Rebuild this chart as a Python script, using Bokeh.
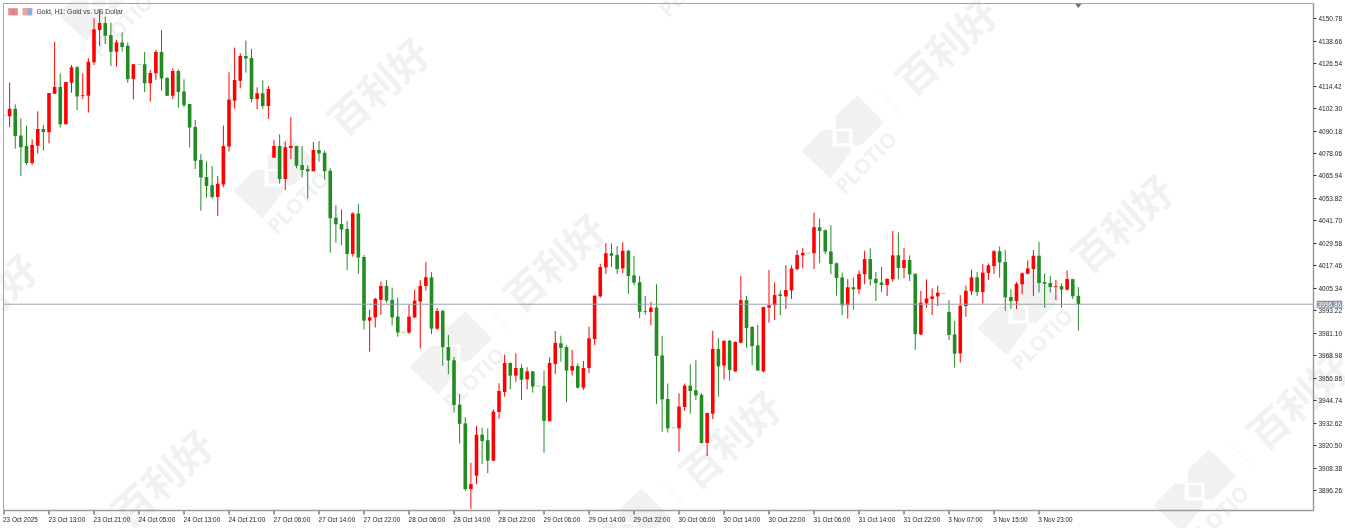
from bokeh.embed import file_html
from bokeh.resources import INLINE
from bokeh.plotting import figure
from bokeh.models import (ColumnDataSource, Range1d, LinearAxis, FixedTicker, NumeralTickFormatter,
                          Label, PolyAnnotation, Span)

opens = [4098.6,4098.1,4102.2,4087.8,4082.1,4073.0,4082.3,4091.2,4089.5,4110.3,4113.9,4093.8,4116.2,4124.5,4109.2,4109.2,
 4127.2,4144.6,4148.4,4141.9,4132.9,4137.8,4136.1,4118.2,4126.1,4126.1,4115.9,4121.3,4132.7,4118.7,4109.2,4122.5,
 4111.5,4104.7,4092.3,4074.6,4065.4,4060.9,4054.6,4061.3,4081.8,4106.5,4117.3,4130.6,4129.5,4107.4,4110.5,4103.7,
 4075.8,4082.1,4064.3,4081.0,4082.1,4071.9,4069.7,4068.5,4080.0,4078.4,4068.8,4043.5,4040.1,4037.4,4023.9,4045.8,
 4022.3,3988.0,3989.8,3999.2,4006.7,3999.2,3990.2,3981.7,3981.6,3989.8,3998.3,4006.7,4011.4,3983.7,3993.2,3973.8,
 3966.7,3942.8,3932.7,3897.3,3904.5,3926.6,3923.6,3912.6,3938.8,3949.6,3965.2,3958.4,3962.5,3956.4,3960.7,3952.8,
 3952.8,3933.8,3964.7,3975.8,3973.8,3961.1,3963.6,3951.9,3962.5,3978.1,4001.1,4016.7,4024.3,4023.4,4016.2,4025.7,
 4012.4,4008.7,3993.2,3992.7,3995.0,3969.3,3945.8,3930.2,3930.0,3941.5,3953.0,3950.5,3948.1,3922.1,3937.9,3972.8,
 3963.8,3977.2,3960.7,3976.1,3999.1,3984.6,3974.7,3960.7,3995.0,3996.3,4002.2,4001.1,4004.3,4015.8,4023.2,4024.4,
 4024.3,4038.3,4036.7,4025.3,4018.9,4011.3,3996.3,4006.0,4004.9,4013.0,4021.2,4010.6,4008.6,4007.2,4010.3,4023.2,
 4016.4,4020.7,4013.3,3980.6,3997.3,3999.7,4001.1,4002.7,3992.7,3980.6,3970.4,3995.9,4003.8,4011.3,4003.4,4013.7,
 4017.4,4025.4,4019.6,4000.8,3998.6,4007.6,4013.3,4015.8,4023.0,4008.8,4008.3,4006.1,4006.6,4004.7,4010.4,4001.4]
highs = [4098.6,4116.2,4104.5,4097.0,4093.1,4085.7,4100.8,4093.4,4110.6,4138.1,4121.1,4116.6,4125.7,4125.2,4121.3,4129.3,
 4150.9,4155.4,4151.8,4148.5,4139.2,4143.3,4137.8,4126.1,4126.1,4132.7,4123.0,4133.8,4144.6,4119.1,4123.9,4123.4,
 4118.0,4104.7,4096.1,4077.8,4073.9,4071.3,4066.0,4093.1,4121.8,4135.1,4132.0,4138.9,4134.4,4113.7,4117.5,4114.4,
 4085.2,4088.4,4084.5,4097.6,4082.1,4082.1,4071.7,4084.3,4084.8,4079.6,4070.1,4050.2,4048.0,4041.7,4046.4,4050.9,
 4023.4,3993.8,4000.4,4009.0,4009.9,4005.8,4000.4,3981.7,3996.5,4004.6,4009.9,4019.5,4014.1,3994.7,3994.1,3980.3,
 3968.5,3948.5,3936.0,3911.4,3931.3,3930.4,3930.0,3940.3,3954.3,3969.7,3965.6,3970.4,3964.5,3962.9,3960.7,3952.8,
 3961.1,3968.3,3982.4,3979.9,3974.8,3972.2,3965.0,3966.3,3984.8,4001.5,4018.5,4029.7,4029.7,4028.2,4030.2,4026.1,
 4022.8,4012.1,4001.3,3998.1,4007.6,3979.9,3954.2,3930.2,3948.9,3954.2,3964.5,3966.8,3948.9,3938.3,3982.6,3978.5,
 3977.2,3977.6,3976.9,4012.1,4001.3,3985.1,3985.7,3995.4,4015.3,4008.6,4004.2,4018.0,4017.8,4026.1,4027.1,4024.4,
 4046.2,4043.1,4037.2,4039.4,4019.4,4013.9,4010.4,4011.3,4015.1,4025.7,4027.0,4014.2,4016.9,4010.6,4036.3,4035.6,
 4027.3,4023.2,4013.3,4004.0,4010.3,4005.4,4006.9,4002.7,3999.1,3987.8,4001.8,4006.9,4015.5,4014.2,4018.5,4018.9,
 4026.1,4028.0,4026.1,4005.0,4008.8,4014.0,4020.5,4026.1,4030.5,4013.5,4012.0,4009.9,4008.1,4015.1,4010.4,4006.1]
lows = [4098.6,4092.3,4080.7,4065.9,4071.9,4071.9,4078.0,4079.6,4083.5,4110.3,4092.0,4093.8,4110.8,4101.5,4107.4,4100.1,
 4125.7,4136.0,4137.0,4125.2,4124.9,4132.9,4116.2,4107.2,4126.1,4111.2,4106.0,4117.7,4111.9,4109.0,4107.4,4102.7,
 4102.9,4081.4,4069.7,4047.3,4054.3,4053.6,4044.4,4059.9,4079.1,4102.2,4113.2,4121.6,4105.6,4101.9,4102.2,4096.7,
 4075.8,4061.8,4058.4,4075.1,4070.1,4065.1,4053.8,4068.5,4073.7,4064.0,4024.7,4030.0,4028.8,4015.3,4022.5,4013.3,
 3983.2,3971.3,3984.3,3991.1,3997.7,3985.5,3979.4,3981.7,3980.8,3989.3,3973.1,4004.2,3980.7,3983.0,3963.8,3959.3,
 3938.5,3921.9,3896.4,3886.6,3900.0,3910.8,3905.8,3912.3,3935.1,3947.1,3951.0,3955.0,3945.3,3951.0,3949.2,3952.8,
 3916.9,3933.8,3959.3,3965.9,3944.0,3958.4,3951.4,3950.7,3959.8,3974.9,4000.4,4013.2,4016.9,4013.2,4013.5,4002.4,
 4007.2,3989.4,3991.2,3985.5,3943.1,3928.2,3927.7,3930.2,3917.4,3939.4,3937.9,3945.3,3921.9,3915.1,3935.0,3947.1,
 3956.4,3955.7,3960.3,3975.8,3973.5,3964.1,3960.9,3960.2,3986.9,3988.4,3991.0,3994.3,3999.8,4015.1,4016.2,4024.4,
 4015.8,4018.9,4023.9,4013.0,4001.5,3990.9,3989.1,3993.9,4002.2,4007.7,4006.9,3998.6,4003.4,4001.3,4009.0,4010.3,
 4010.8,4009.4,3972.2,3980.3,3995.0,3991.1,3995.9,4002.7,3977.6,3962.7,3965.5,3990.1,4001.8,4001.3,3997.3,4009.9,
 4013.1,4011.2,3993.4,3994.3,3994.3,4002.2,4012.9,4001.3,4003.2,3995.0,4003.2,3999.1,3995.0,4004.3,3999.7,3982.6]
closes = [4098.6,4102.2,4087.5,4081.4,4073.0,4082.6,4091.2,4089.6,4110.6,4113.9,4093.8,4116.6,4124.5,4108.7,4109.6,4127.5,
 4145.0,4148.4,4141.5,4132.9,4137.8,4135.4,4118.2,4126.1,4126.1,4115.9,4121.4,4132.7,4118.5,4109.2,4122.5,4111.2,
 4104.0,4092.0,4074.2,4065.1,4060.6,4054.6,4061.8,4082.1,4107.1,4117.7,4130.6,4129.2,4107.4,4110.5,4103.7,4112.8,
 4082.1,4064.3,4081.4,4082.1,4071.5,4069.2,4068.5,4080.0,4078.0,4068.5,4043.2,4039.9,4037.1,4023.9,4045.8,4022.0,
 3988.0,3989.8,3999.7,4006.7,3998.8,3989.8,3981.6,3981.7,3990.2,3998.8,4006.7,4011.4,3983.7,3993.2,3973.7,3966.5,
 3942.6,3932.4,3897.3,3899.9,3926.6,3923.2,3912.6,3939.0,3950.1,3965.2,3958.4,3962.5,3956.2,3960.7,3952.5,3952.8,
 3934.0,3965.2,3976.0,3973.4,3961.1,3963.6,3951.9,3962.5,3978.5,4001.5,4016.9,4024.3,4023.0,4015.8,4025.7,4012.1,
 4008.5,3992.8,3992.8,3995.0,3969.0,3945.6,3930.0,3930.2,3941.7,3953.0,3950.1,3947.8,3922.1,3938.3,3972.8,3963.4,
 3977.2,3961.4,3976.5,3999.1,3984.0,3974.3,3961.2,3995.4,3996.3,4001.8,4001.3,4004.5,4016.2,4023.4,4024.4,4024.4,
 4038.3,4036.3,4025.2,4018.5,4011.0,3996.3,4006.0,4004.9,4013.1,4021.2,4010.3,4008.3,4007.2,4010.6,4023.2,4016.4,
 4020.7,4012.9,3980.8,3997.7,4000.0,4001.1,4003.1,4002.7,3980.3,3970.2,3996.1,4004.1,4011.3,4003.4,4013.9,4017.8,
 4025.4,4019.4,4000.6,3998.6,4007.9,4013.5,4016.2,4023.0,4008.3,4007.9,4006.1,4006.6,4004.7,4010.4,4001.1,3996.9]

price_ticks = [4150.78,4138.66,4126.54,4114.42,4102.30,4090.18,4078.06,4065.94,4053.82,4041.70,4029.58,
               4017.46,4005.34,3993.22,3981.10,3968.98,3956.86,3944.74,3932.62,3920.50,3908.38,3896.26]
time_labels = ["23 Oct 2025","23 Oct 13:00","23 Oct 21:00","24 Oct 05:00","24 Oct 13:00","24 Oct 21:00",
               "27 Oct 06:00","27 Oct 14:00","27 Oct 22:00","28 Oct 06:00","28 Oct 14:00","28 Oct 22:00",
               "29 Oct 06:00","29 Oct 14:00","29 Oct 22:00","30 Oct 06:00","30 Oct 14:00","30 Oct 22:00",
               "31 Oct 06:00","31 Oct 14:00","31 Oct 22:00","3 Nov 07:00","3 Nov 15:00","3 Nov 23:00"]
last_price = 3996.86
title_text = "Gold, H1:  Gold vs. US Dollar"

BAR = 5.625; X0 = 3.5; PY0 = 4160.75; PPP = 0.5387; YSHIFT = 0.5
def dx(px): return (px - X0) / BAR
def dy(py): return PY0 - PPP * (py + YSHIFT)
FONT = "Liberation Sans"
PIN = {"position": "fixed", "left": "0px", "top": "0px"}

# Back sheet: covers the whole page, so the watermark and tags run past the plot frame.
back = figure(width=1345, height=528, output_backend="svg", toolbar_location=None,
              x_range=Range1d(dx(0), dx(1345)), y_range=Range1d(dy(528), dy(0)),
              x_axis_location=None, y_axis_location=None, min_border=0,
              background_fill_color="white", border_fill_color="white", outline_line_color=None)
back.styles = PIN
back.grid.visible = False

# Front sheet: the chart itself, transparent.
p = figure(width=1345, height=528, output_backend="svg", toolbar_location=None,
           x_range=Range1d(dx(3), dx(1313)), y_range=Range1d(dy(510), dy(3)),
           x_axis_location=None, y_axis_location="right",
           min_border_left=3, min_border_right=32, min_border_top=3, min_border_bottom=18,
           background_fill_color=None, border_fill_color=None, outline_line_color="#a6a6a6")
p.styles = PIN
p.grid.visible = False

def poly(pts, ax, ay, color):
    back.add_layout(PolyAnnotation(xs=[dx(ax + a) for a, b in pts], ys=[dy(ay + b) for a, b in pts],
                                   fill_color=color, fill_alpha=1, line_color=None, level="underlay"))

# watermark
WM = "#f1f1f1"
upper = [(0,0),(26.7,26.7),(3.3,50),(-5,50),(-5,33.3),(-21.7,33.3),(-21.7,20)]
lower = [(-35,34.3),(-25,34.3),(-25,51),(-6.7,51),(-6.7,55.7),(-26.7,82.7),(-56,55.7)]
square = [(-20.7,35.7),(-8.3,35.7),(-8.3,47.7),(-20.7,47.7)]
divider = [(20.2,-6),(21.2,-6),(46.2,19.3),(45.2,19.3)]
for lx, ly in [(857,95),(1033,272),(1209,449),(465,311),(641,488),(289,135),(113,-42),(681,-82)]:
    for shape in (upper, lower, square, divider):
        poly(shape, lx, ly, WM)
    back.add_layout(Label(x=dx(lx+8.3), y=dy(ly+66.7), text="PLOTIO", angle=45, angle_units="deg", text_color=WM,
                          text_font="Open Sans", text_font_style="bold", text_font_size="21px",
                          text_align="center", text_baseline="middle", level="underlay"))
for cx, cy in [(945,45),(1121,222),(1297,399),(553,261),(729,438),(377,85),(161,477),(-15,301)]:
    back.add_layout(Label(x=dx(cx), y=dy(cy), text="百利好", angle=42, angle_units="deg", text_color=WM,
                          text_font="Noto Sans CJK SC", text_font_style="bold", text_font_size="40px",
                          text_align="center", text_baseline="middle", level="underlay"))

# candles
idx = list(range(len(opens)))
RED, GREEN, DOJI = "#ff0000", "#228b22", "#7fe87f"
src = ColumnDataSource(dict(
    x=idx, o=opens, h=highs, l=lows, c=closes,
    top=[max(a, b) for a, b in zip(opens, closes)],
    bot=[min(a, b) for a, b in zip(opens, closes)],
    col=[DOJI if a == b else (RED if b > a else GREEN) for a, b in zip(opens, closes)]))
p.segment("x", "h", "x", "l", source=src, line_color="col", line_width=1)
p.vbar("x", 0.64, "top", "bot", source=src, fill_color="col", line_color=None)
doji = [i for i in idx if opens[i] == closes[i]]
p.segment([i - 0.35 for i in doji], [opens[i] for i in doji], [i + 0.35 for i in doji], [opens[i] for i in doji],
          line_color=DOJI, line_width=1)

p.add_layout(Span(location=last_price, dimension="width", line_color="#9aa3ac", line_width=1))

# axes
ax = p.yaxis[0]
ax.ticker = FixedTicker(ticks=price_ticks)
ax.formatter = NumeralTickFormatter(format="0.00")
ax.axis_line_color = "#9a9a9a"; ax.axis_line_width = 1.5
ax.major_tick_line_color = "#333333"; ax.major_tick_in = 0; ax.major_tick_out = 3
ax.minor_tick_line_color = None
ax.major_label_standoff = 2
ax.major_label_text_font = FONT; ax.major_label_text_font_size = "6.5px"; ax.major_label_text_color = "#222222"

ticks = [i * 8 for i in range(len(time_labels))]
shifted = [t + 0.268 * len(s) - 0.03 for t, s in zip(ticks, time_labels)]
label_axis = LinearAxis(ticker=FixedTicker(ticks=shifted), axis_line_color="#9a9a9a", axis_line_width=1.5,
                        major_tick_line_color=None, minor_tick_line_color=None, major_tick_in=0, major_tick_out=0,
                        major_label_standoff=5,
                        major_label_overrides={s: t for s, t in zip(shifted, time_labels)},
                        major_label_text_font=FONT, major_label_text_font_size="6.4px",
                        major_label_text_color="#222222")
p.add_layout(label_axis, "below")
back.segment(ticks, [dy(510.5)] * len(ticks), ticks, [dy(514)] * len(ticks), line_color="#333333", line_width=1)

# current price tag
back.add_layout(Label(x=dx(1329), y=last_price, text=f"{last_price:.2f}", text_color="white", text_font=FONT,
                      text_font_size="6.5px", text_align="center", text_baseline="middle",
                      background_fill_color="#8494a6", background_fill_alpha=1, border_line_color=None,
                      padding=1, level="annotation"))

# little arrow on the top edge at the last bar
poly([(-3,0),(3,0),(0,4)], X0 + BAR * idx[-1], 3.5, "#5f7284")

# header icons and title
poly([(0,0),(10,0),(10,7.5),(0,7.5)], 7.5, 7.5, "#f2a3a3")
for r in (2, 4, 6):
    poly([(1,0),(9,0),(9,0.7),(1,0.7)], 7.5, 7.5 + r - 0.5, "#d85f5f")
poly([(5,0.5),(5.7,0.5),(5.7,7),(5,7)], 7.5, 7.5, "#5b8fd0")
poly([(0,0),(10,0),(10,7.5),(0,7.5)], 22, 7.5, "#f2a3a3")
poly([(5,0.5),(9.5,0.5),(9.5,7),(5,7)], 22, 7.5, "#7fb3e0")
back.add_layout(Label(x=dx(36), y=dy(10.5), text=title_text, text_color="#333333", text_font=FONT,
                      text_font_size="6.8px", text_align="left", text_baseline="middle", level="annotation"))

open("out.html", "w").write(file_html([back, p], INLINE))
